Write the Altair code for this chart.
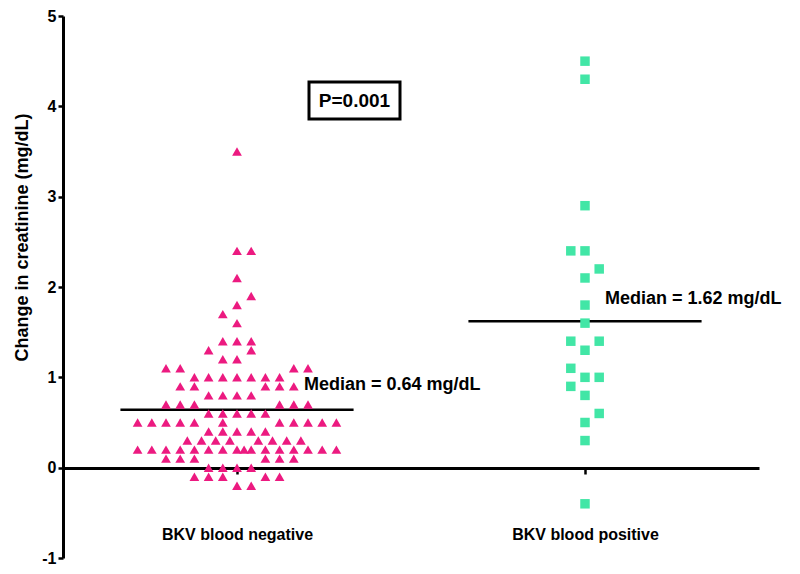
import altair as alt
import pandas as pd

# ---- data ----
groups = ["BKV blood negative", "BKV blood positive"]
group_pos = [1, 3]

# BKV blood negative: change in creatinine (mg/dL) and beeswarm column
neg_y = [3.5,
         2.4, 2.4,
         2.1,
         1.9,
         1.8,
         1.7,
         1.6,
         1.4, 1.4, 1.4,
         1.3, 1.3,
         1.2, 1.2,
         1.1, 1.1, 1.1, 1.1,
         1.0, 1.0, 1.0, 1.0, 1.0, 1.0, 1.0,
         0.9, 0.9, 0.9, 0.9, 0.9,
         0.8, 0.8, 0.8, 0.8,
         0.7, 0.7, 0.7, 0.7, 0.7, 0.7,
         0.6, 0.6, 0.6, 0.6, 0.6,
         0.5, 0.5, 0.5, 0.5, 0.5, 0.5, 0.5, 0.5, 0.5, 0.5, 0.5,
         0.4, 0.4, 0.4, 0.4, 0.4,
         0.3, 0.3, 0.3, 0.3, 0.3, 0.3, 0.3, 0.3,
         0.2, 0.2, 0.2, 0.2, 0.2, 0.2, 0.2, 0.2, 0.2, 0.2, 0.2, 0.2, 0.2, 0.2, 0.2, 0.2,
         0.1, 0.1, 0.1, 0.1, 0.1, 0.1,
         0.0, 0.0, 0.0, 0.0,
         -0.1, -0.1, -0.1, -0.1, -0.1,
         -0.2, -0.2]
neg_col = [0,
           0, 1,
           0,
           1,
           0,
           -1,
           0,
           -1, 0, 1,
           -2, 1,
           -1, 0,
           -5, -4, 4, 5,
           -3, -2, -1, 0, 1, 2, 3,
           -4, -3, 2, 3, 4,
           -2, -1, 0, 1,
           -5, -4, -3, 3, 4, 5,
           -2, -1, 0, 1, 2,
           -7, -6, -5, -4, -3, -1, 3, 4, 5, 6, 7,
           -2, -1, 0, 1, 2,
           -3.5, -2.5, -1.5, -0.5, 1.5, 2.5, 3.5, 4.5,
           -7, -6, -5, -4, -3, -2, -1, 0, 0.5, 1, 2, 3, 4, 5, 6, 7,
           -5, -4, -3, 2, 3, 4,
           -2, -1, 0, 1,
           -3, -2, -1, 2, 3,
           0, 1]

# BKV blood positive
pos_y = [4.5, 4.3, 2.9, 2.4, 2.4, 2.2, 2.1, 1.8, 1.6, 1.4, 1.4, 1.3,
         1.1, 1.0, 1.0, 0.9, 0.8, 0.6, 0.5, 0.3, -0.4]
pos_col = [0, 0, 0, -1, 0, 1, 0, 0, 0, -1, 1, 0,
           -1, 0, 1, -1, 0, 1, 0, 0, 0]

y_ticks = [-1, 0, 1, 2, 3, 4, 5]
medians = [0.64, 1.62]
median_labels = ["Median = 0.64 mg/dL", "Median = 1.62 mg/dL"]
p_label = "P=0.001"

# ---- layout constants ----
STEP = 0.0816       # beeswarm column spacing in x units
HALF = 0.67         # half-length of median line
PINK = "#EC1A80"
TEAL = "#42E6A6"
FONT = "Liberation Sans"

neg_df = pd.DataFrame({"y": neg_y, "x": [group_pos[0] + c * STEP for c in neg_col]})
pos_df = pd.DataFrame({"y": pos_y, "x": [group_pos[1] + c * STEP for c in pos_col]})
med_df = pd.DataFrame({"m": medians,
                       "x": [g - HALF for g in group_pos],
                       "x2": [g + HALF for g in group_pos]})

label_expr = (f"datum.value == {group_pos[0]} ? '{groups[0]}' : "
              f"(datum.value == {group_pos[1]} ? '{groups[1]}' : '')")

xscale = alt.Scale(domain=[0, 4], nice=False, zero=False)
yscale = alt.Scale(domain=[-1, 5], nice=False, zero=False)

xaxis = alt.Axis(values=group_pos, labelExpr=label_expr, offset=-90,
                 domainWidth=3, domainColor="black", tickColor="black",
                 tickWidth=2.5, tickSize=6, labelFont=FONT, labelFontSize=16,
                 labelFontWeight="bold", labelColor="black",
                 labelBaseline="middle", labelPadding=60, grid=False,
                 title=None, labelFlush=False)
yaxis = alt.Axis(values=y_ticks, labelExpr="'' + datum.value", domainWidth=3,
                 domainColor="black", tickColor="black", tickWidth=2.5,
                 tickSize=5, labelFont=FONT, labelFontSize=16,
                 labelFontWeight="bold", labelColor="black", labelPadding=2,
                 grid=False, title="Change in creatinine (mg/dL)",
                 titleFont=FONT, titleFontSize=18, titleFontWeight="bold",
                 titleColor="black", titleX=-41, titleY=221,
                 titleBaseline="middle", titleAngle=-90)

base_axes = alt.Chart(med_df).mark_point(opacity=0).encode(
    x=alt.X("x:Q", scale=xscale, axis=xaxis),
    y=alt.Y("m:Q", scale=yscale, axis=yaxis),
)

neg_pts = alt.Chart(neg_df).mark_point(
    shape="triangle-up", filled=True, size=95, color=PINK, opacity=1
).encode(x=alt.X("x:Q", scale=xscale), y=alt.Y("y:Q", scale=yscale))

pos_pts = alt.Chart(pos_df).mark_point(
    shape="square", filled=True, size=90, color=TEAL, opacity=1
).encode(x=alt.X("x:Q", scale=xscale), y=alt.Y("y:Q", scale=yscale))

med_rules = alt.Chart(med_df).mark_rule(color="black", strokeWidth=2.5).encode(
    x=alt.X("x:Q", scale=xscale), x2="x2:Q", y=alt.Y("m:Q", scale=yscale))

med_text = alt.layer(
    alt.Chart().mark_text(text=median_labels[0], font=FONT, fontSize=18,
                          fontWeight="bold", align="left", baseline="middle",
                          color="black").encode(x=alt.value(241), y=alt.value(369)),
    alt.Chart().mark_text(text=median_labels[1], font=FONT, fontSize=18,
                          fontWeight="bold", align="left", baseline="middle",
                          color="black").encode(x=alt.value(542), y=alt.value(283)),
)

p_box = alt.Chart().mark_rect(fill="white", stroke="black", strokeWidth=3).encode(
    x=alt.value(246), x2=alt.value(337), y=alt.value(66), y2=alt.value(103))
p_text = alt.Chart().mark_text(text=p_label, font=FONT, fontSize=19,
                               fontWeight="bold", align="center",
                               baseline="middle", color="black").encode(
    x=alt.value(291.5), y=alt.value(85))

chart = alt.layer(base_axes, med_rules, neg_pts, pos_pts, med_text, p_box, p_text).properties(
    width=696, height=542,
    autosize=alt.AutoSizeParams(type="none"),
    padding={"left": 55, "top": 8, "right": 33, "bottom": 8},
).configure(background="white").configure_view(strokeWidth=0, stroke="transparent")

chart.save("out.html", embed_options={"renderer": "svg", "actions": False})
